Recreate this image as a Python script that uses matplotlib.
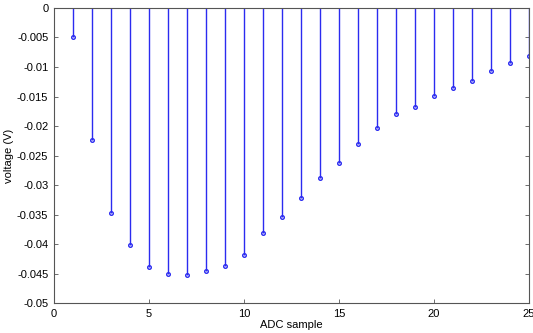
import matplotlib
matplotlib.use("Agg")
import matplotlib.pyplot as plt
from matplotlib.ticker import FuncFormatter, MultipleLocator

samples = list(range(1, 26))
voltage = [-0.0050, -0.0224, -0.0348, -0.0402, -0.0439, -0.0451, -0.0453, -0.0446,
           -0.0438, -0.0418, -0.0381, -0.0354, -0.0322, -0.0288, -0.0263, -0.0231,
           -0.0203, -0.0179, -0.0167, -0.0149, -0.0136, -0.0123, -0.0107, -0.0093,
           -0.0081]

plt.rcParams['font.family'] = ['Liberation Sans', 'DejaVu Sans']
plt.rcParams['axes.unicode_minus'] = False

fig = plt.figure(figsize=(5.33, 3.33), dpi=100)
ax = fig.add_axes([0.101, 0.09, 0.8915, 0.886])

ml, sl, bl = ax.stem(samples, voltage, basefmt=' ')
plt.setp(sl, color='#2b2bf0', linewidth=1.0)
plt.setp(ml, color='#2b2bf0', markerfacecolor='none', markersize=2.6, markeredgewidth=1.0)

ax.set_xlim(0, 25)
ax.set_ylim(-0.05, 0)
ax.xaxis.set_major_locator(MultipleLocator(5))
ax.yaxis.set_major_locator(MultipleLocator(0.005))
ax.yaxis.set_major_formatter(FuncFormatter(lambda v, p: '%g' % round(v, 4)))
ax.tick_params(direction='in', top=True, right=True, labelsize=8, length=3,
               color='#555555', width=0.6, pad=4)
for s in ax.spines.values():
    s.set_color('#555555')
    s.set_linewidth(0.8)
ax.set_xlabel('ADC sample', fontsize=8, labelpad=1)
ax.set_ylabel('voltage (V)', fontsize=8, labelpad=2)

fig.savefig('out.png', dpi=100)
